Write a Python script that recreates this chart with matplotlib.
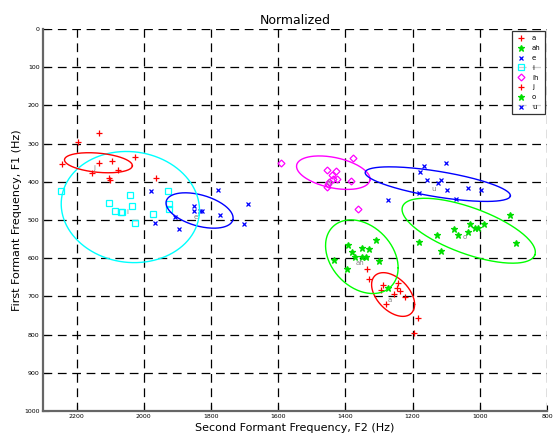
import numpy as np
import matplotlib
matplotlib.use('Agg')
import matplotlib.pyplot as plt

# ---- formant data (F2, F1) in Hz ----
vowels = ['a', 'ah', 'e', 'i', 'ih', 'j', 'o', 'u']

a_f2 = [1336, 1329, 1288, 1294, 1244, 1247, 1237, 1255, 1224, 1278, 1184, 1195]
a_f1 = [627, 655, 671, 683, 666, 679, 686, 694, 702, 720, 756, 795]

ah_f2 = [1310, 1391, 1379, 1351, 1329, 1371, 1351, 1340, 1435, 1300, 1394, 1272]
ah_f1 = [552, 565, 583, 574, 576, 596, 598, 598, 604, 607, 629, 677]

e_f2 = [1980, 1779, 1689, 1852, 1852, 1834, 1828, 1772, 1906, 1968, 1703, 1896]
e_f1 = [425, 421, 458, 463, 476, 476, 476, 488, 493, 509, 511, 524]

i_f2 = [2245, 2042, 2104, 1928, 1926, 1924, 2036, 2085, 2068, 2064, 1973, 2026]
i_f1 = [424, 435, 456, 424, 459, 472, 463, 476, 480, 479, 484, 508]

ih_f2 = [1592, 1378, 1456, 1429, 1441, 1438, 1426, 1383, 1448, 1451, 1455, 1362]
ih_f1 = [350, 338, 368, 372, 382, 393, 393, 398, 400, 406, 413, 470]

j_f2 = [2196, 2132, 2242, 2134, 2096, 2155, 2077, 2025, 2104, 2102, 1963]
j_f1 = [295, 272, 353, 350, 346, 376, 369, 334, 389, 395, 389]

o_f2 = [910, 1029, 987, 1015, 1005, 1076, 1034, 1064, 1128, 1180, 893, 1114]
o_f1 = [487, 511, 510, 520, 520, 523, 531, 539, 540, 557, 561, 580]

u_f2 = [1166, 1102, 1177, 1158, 1125, 1114, 1099, 1034, 997, 1180, 1072, 1272]
u_f1 = [359, 350, 373, 396, 403, 396, 421, 417, 421, 428, 446, 448]

# ellipse centre (F2, F1) and two semi-diameters (dF2, dF1)
ell_center = {'a': (1258, 695), 'ah': (1351, 596), 'e': (1834, 475), 'i': (2040, 466),
              'ih': (1436, 376), 'j': (2135, 350), 'o': (1033, 528), 'u': (1125, 406)}
ell_u = {'a': (-64, 26), 'ah': (-108, 29), 'e': (-99, 25), 'i': (-205, 21),
         'ih': (-109, 20), 'j': (-101, 8), 'o': (-197, 63), 'u': (-216, 31)}
ell_v = {'a': (0, 51), 'ah': (0, 92), 'e': (13, 39), 'i': (18, 144),
         'ih': (9, 39), 'j': (2, 25), 'o': (23, 57), 'u': (6, 33)}

# label positions (F2, F1)
lab_pos = {'a': (1267, 709), 'ah': (1356, 612), 'e': (1844, 491), 'i': (2049, 478),
           'ih': (1448, 403), 'j': (2147, 364), 'o': (1044, 544), 'u': (1138, 418)}

data = {'a': (a_f2, a_f1), 'ah': (ah_f2, ah_f1), 'e': (e_f2, e_f1), 'i': (i_f2, i_f1),
        'ih': (ih_f2, ih_f1), 'j': (j_f2, j_f1), 'o': (o_f2, o_f1), 'u': (u_f2, u_f1)}

styles = {'a': dict(marker='+', color='#ff0000', ms=5, mfc='none'),
          'ah': dict(marker='*', color='#00dd00', ms=4.5),
          'e': dict(marker='x', color='#0000ff', ms=2.5),
          'i': dict(marker='s', color='#00ffff', ms=4, mfc='none'),
          'ih': dict(marker='D', color='#ff00ff', ms=3.5, mfc='none'),
          'j': dict(marker='+', color='#ff0000', ms=5, mfc='none'),
          'o': dict(marker='*', color='#00dd00', ms=4.5),
          'u': dict(marker='x', color='#0000ff', ms=2.5)}
ell_colors = {'a': '#ff0000', 'ah': '#00ff00', 'e': '#0000ff', 'i': '#00ffff',
              'ih': '#ff00ff', 'j': '#ff0000', 'o': '#00ff00', 'u': '#0000ff'}

fig = plt.figure(figsize=(5.59, 4.34), dpi=100)
ax = fig.add_axes([0.0769, 0.053, 0.9016, 0.880])

t = np.linspace(0, 2 * np.pi, 200)
for v in vowels:
    f2, f1 = data[v]
    st = styles[v]
    ax.plot(f2, f1, linestyle='none', marker=st['marker'], color=st['color'],
            ms=st['ms'], mew=0.9, mfc=st.get('mfc', st['color']), label=v)
for v in vowels:
    c = ell_center[v]
    uu = ell_u[v]
    vv = ell_v[v]
    ex = c[0] + uu[0] * np.cos(t) + vv[0] * np.sin(t)
    ey = c[1] + uu[1] * np.cos(t) + vv[1] * np.sin(t)
    ax.plot(ex, ey, color=ell_colors[v], lw=1.0)
    ax.text(lab_pos[v][0], lab_pos[v][1], v, fontsize=5, color='#808080',
            ha='center', va='center')

ax.set_xlim(2300, 800)
ax.set_ylim(1000, 0)
ax.set_xticks([2200, 2000, 1800, 1600, 1400, 1200, 1000, 800])
ax.set_yticks(np.arange(0, 1001, 100))
ax.tick_params(labelsize=4.5, direction='in', length=4, width=0.8, colors='black', pad=2.5)
ax.grid(True, color='black', linestyle=(0, (7, 4.5)), linewidth=0.9)
for s in ['top', 'right']:
    ax.spines[s].set_visible(False)
for s in ['left', 'bottom']:
    ax.spines[s].set_color('#666666')
    ax.spines[s].set_linewidth(1.6)

ax.set_title('Normalized', fontsize=9, pad=4)
ax.set_xlabel('Second Formant Frequency, F2 (Hz)', fontsize=8)
ax.set_ylabel('First Formant Frequency, F1 (Hz)', fontsize=8)
ax.xaxis.set_label_coords(0.5, -0.031)
ax.yaxis.set_label_coords(-0.041, 0.5)

leg = ax.legend(loc='upper right', fontsize=5, frameon=True, fancybox=False,
                edgecolor='black', borderpad=0.6, labelspacing=0.55,
                handlelength=1.5, borderaxespad=0.3)
leg.get_frame().set_linewidth(0.9)

fig.savefig('out.png', dpi=100)
